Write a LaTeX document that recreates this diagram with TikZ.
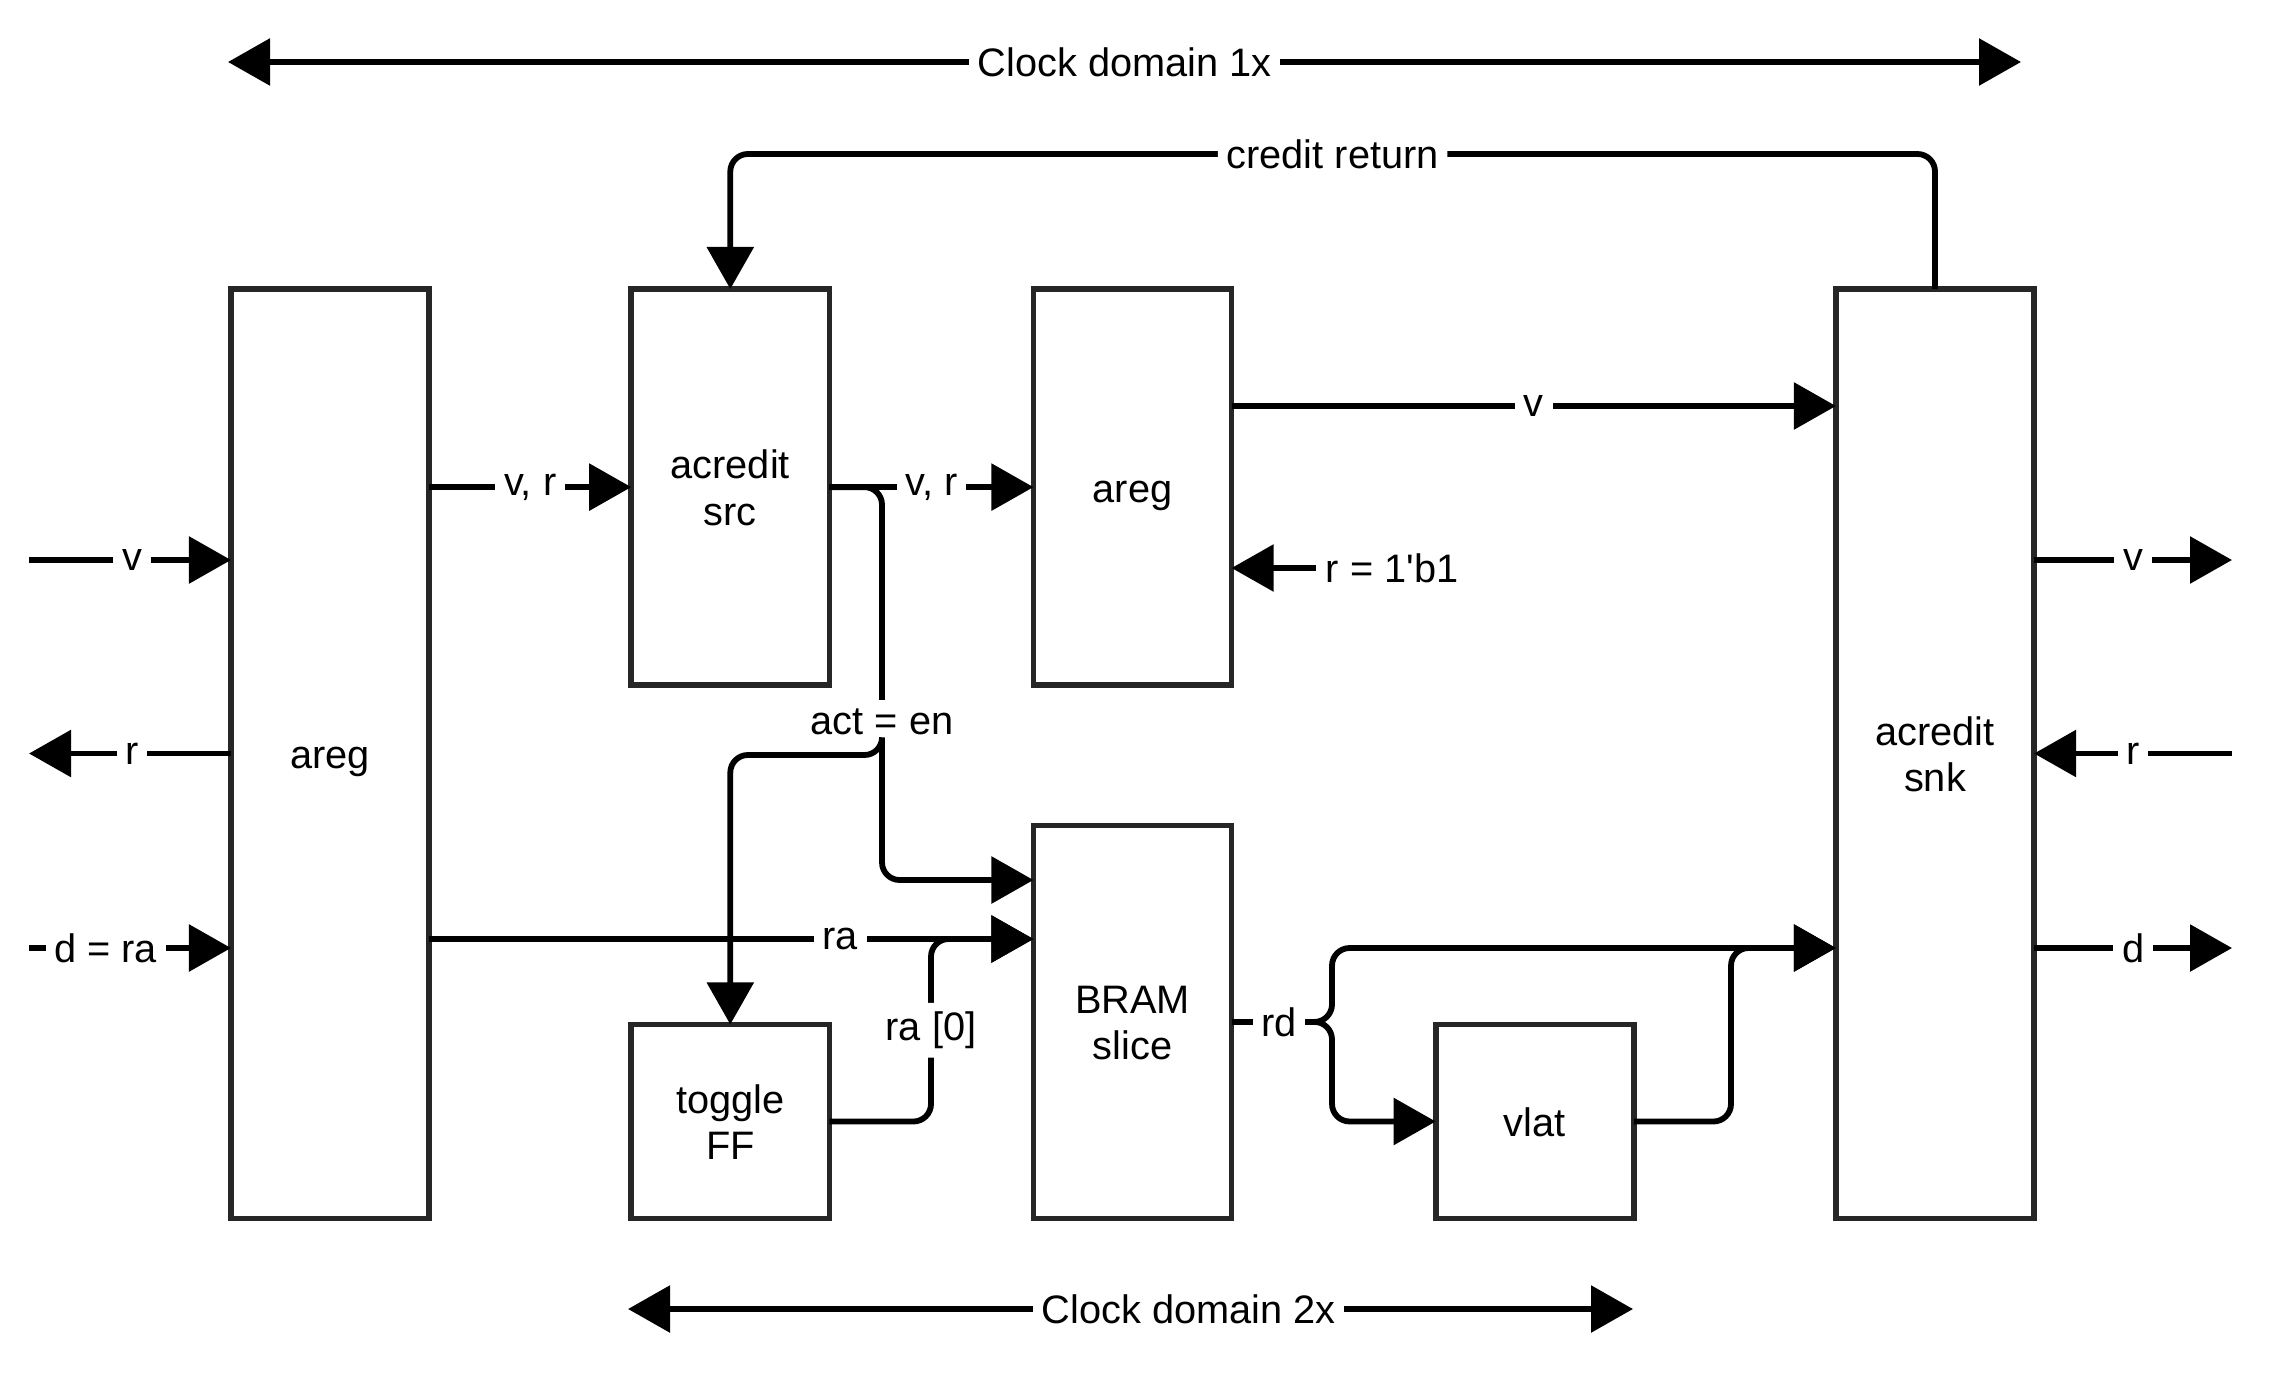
\documentclass[tikz,border=0pt]{standalone}
\usepackage{fontspec}
\setmainfont{Liberation Sans}
\usetikzlibrary{arrows.meta,positioning}
\newcommand{\twolines}[2]{\rule{0pt}{12.4pt}#1\\#2\strut}

\begin{document}
\begin{tikzpicture}[x=0.01cm, y=-0.01cm, every node/.style={font=\fontsize{11.3}{13.2}\selectfont},
  blk/.style={draw=black!85, line width=1.6pt, fill=white, align=center, minimum width=1.98cm, inner sep=0pt, outer sep=0pt,
    execute at begin node={\rule{0pt}{12.5pt}}, execute at end node=\strut},
  arr/.style={-{Triangle[length=4.2mm, width=4.6mm]}, line width=1.65pt},
  dbl/.style={{Triangle[length=4.2mm, width=4.6mm]}-{Triangle[length=4.2mm, width=4.6mm]}, line width=1.65pt},
  lbl/.style={fill=white, inner sep=2.5pt}]
\useasboundingbox (0,0) rectangle (2280,1376);
\node[blk, minimum height=9.29cm, anchor=north west] (aregL) at (231,289) {areg};
\node[blk, minimum height=3.96cm, right=2.02cm of aregL.north east, anchor=north west] (src) {\twolines{acredit}{src}};
\node[blk, minimum height=3.96cm, right=2.04cm of src.north east, anchor=north west] (aregM) {areg};
\node[blk, minimum height=9.29cm, right=6.04cm of aregM.north east, anchor=north west] (snk) {\twolines{acredit}{snk}};
\node[blk, minimum height=3.93cm, below=1.40cm of aregM.south west, anchor=north west] (bram) {\twolines{BRAM}{slice}};
\node[blk, minimum height=1.94cm, below=3.39cm of src.south west, anchor=north west] (tff) {\twolines{toggle}{FF}};
\node[blk, minimum height=1.94cm, right=2.04cm of bram.south east, anchor=south west] (vlat) {vlat};
% free ends and bend points
\coordinate (inV) at (29,560); \coordinate (inR) at (29,753.5); \coordinate (inD) at (29,948);
\coordinate (outV) at (2232,560); \coordinate (outR) at (2232,753.5); \coordinate (outD) at (2232,948);
\coordinate (clkAl) at (228,62); \coordinate (clkAr) at (2021,62);
\coordinate (clkBl) at (628,1309); \coordinate (clkBr) at (1633,1309);
\coordinate (crTop) at (0,154); \coordinate (vTop) at (0,406);
\coordinate (actX) at (882,0); \coordinate (actIn) at (0,880); \coordinate (actBr) at (0,755);
\coordinate (raRow) at (0,939); \coordinate (raX) at (931,0);
\coordinate (rdBar) at (1332,0); \coordinate (vlX) at (1731,0);
\path (bram.east) ++(79,0) coordinate (rdTip);
% clock domains
\draw[dbl] (clkAl) -- node[lbl]{Clock domain 1x} (clkAr);
\draw[dbl] (clkBl) -- node[lbl, pos=0.558]{Clock domain 2x} (clkBr);
% ports
\draw[arr] (inV) -- node[lbl, pos=0.51]{v} (inV -| aregL.west);
\draw[arr] (inR -| aregL.west) -- node[lbl, pos=0.49]{r} (inR);
\draw[arr] (inD) -- node[lbl, pos=0.38]{d = ra} (inD -| aregL.west);
\draw[arr] (outV -| snk.east) -- node[lbl]{v} (outV);
\draw[arr] (outR) -- node[lbl]{r} (outR -| snk.east);
\draw[arr] (outD -| snk.east) -- node[lbl]{d} (outD);
% 1x path
\draw[arr] (aregL.east |- src.west) -- node[lbl]{v, r} (src.west);
\draw[arr] (src.east) -- node[lbl]{v, r} (aregM.west);
\draw[arr] (aregM.east |- vTop) -- node[lbl]{v} (snk.west |- vTop);
\node[lbl] (rone) at (1392,568) {r = 1\textquotesingle b1};
\draw[arr] (rone) -- (aregM.east |- rone);
\draw[arr, rounded corners=5pt] (snk.north) -- (snk.north |- crTop) -- node[lbl]{credit return} (src.north |- crTop) -- (src.north);
% 2x path
\draw[arr, rounded corners=5pt] (src.east) -| (actX |- actIn) -- (bram.west |- actIn);
\node[lbl] (act) at (882,722) {act = en};
\draw[arr, rounded corners=5pt] (act.south) -- (actX |- actBr) -| (tff.north);
\draw[arr] (aregL.east |- raRow) -- node[lbl, pos=0.68]{ra} (bram.west |- raRow);
\draw[arr, rounded corners=5pt] (tff.east) -| node[lbl, pos=0.75]{ra [0]} (raX |- raRow) -- (bram.west |- raRow);
\draw[line width=1.65pt] (bram.east) -- node[lbl, pos=0.6]{rd} (rdTip);
\draw[arr, rounded corners=5pt] (rdTip) -- (rdTip -| rdBar) -- (rdBar |- outD) -- (snk.west |- outD);
\draw[arr, rounded corners=5pt] (rdTip) -- (rdTip -| rdBar) -- (rdBar |- vlat.west) -- (vlat.west);
\draw[arr, rounded corners=5pt] (vlat.east) -| (vlX |- outD) -- (snk.west |- outD);
\end{tikzpicture}
\end{document}
